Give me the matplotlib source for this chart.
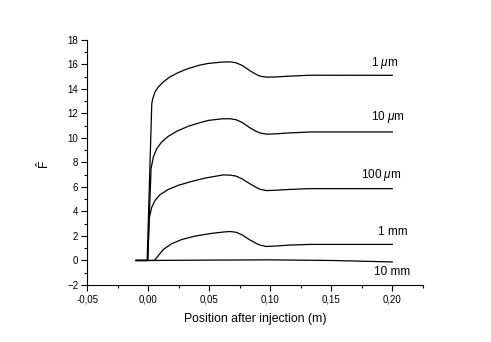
import matplotlib
matplotlib.use("Agg")
import matplotlib.pyplot as plt
from matplotlib.ticker import MultipleLocator, FuncFormatter

plt.rcParams['font.family'] = ['Liberation Sans', 'DejaVu Sans']
plt.rcParams['mathtext.fontset'] = 'custom'
plt.rcParams['mathtext.rm'] = 'Liberation Sans'
plt.rcParams['mathtext.it'] = 'Liberation Sans:italic'

# curves: position (m) vs F-hat
x_1um = [-0.01, -0.001, 0.0028, 0.0036, 0.0055, 0.0082, 0.0123, 0.0178, 0.0246, 0.0328,
         0.042, 0.049, 0.060, 0.067, 0.072, 0.077, 0.0834, 0.088, 0.0916, 0.097,
         0.105, 0.115, 0.1325, 0.20]
y_1um = [0, 0, 12.8, 13.2, 13.75, 14.16, 14.57, 14.98, 15.33, 15.66,
         15.93, 16.07, 16.18, 16.2, 16.12, 15.9, 15.47, 15.2, 15.03, 14.95,
         14.97, 15.03, 15.11, 15.1]

x_10um = [-0.01, -0.0005, 0.0022, 0.0041, 0.0069, 0.011, 0.0164, 0.0233, 0.0328,
          0.042, 0.049, 0.060, 0.067, 0.072, 0.077, 0.083, 0.088, 0.0916, 0.097,
          0.105, 0.115, 0.1325, 0.20]
y_10um = [0, 0, 7.49, 8.44, 9.13, 9.67, 10.13, 10.54, 10.95,
          11.23, 11.42, 11.55, 11.56, 11.48, 11.25, 10.84, 10.55, 10.4, 10.3,
          10.33, 10.4, 10.48, 10.48]

x_100um = [-0.01, -0.0005, 0.0006, 0.0028, 0.0055, 0.0096, 0.0164, 0.0246, 0.0356,
           0.0465, 0.0615, 0.067, 0.072, 0.077, 0.083, 0.088, 0.0916, 0.097,
           0.105, 0.115, 0.1325, 0.20]
y_100um = [0, 0, 3.4, 4.35, 4.9, 5.37, 5.8, 6.13, 6.45,
           6.72, 6.98, 6.96, 6.88, 6.65, 6.27, 5.98, 5.8, 5.7,
           5.73, 5.79, 5.86, 5.86]

x_1mm = [-0.01, 0.0049, 0.0082, 0.0123, 0.019, 0.0274, 0.0383, 0.052, 0.0615, 0.067,
         0.072, 0.077, 0.083, 0.088, 0.0916, 0.097, 0.105, 0.115, 0.1325, 0.20]
y_1mm = [0, 0, 0.4, 0.9, 1.36, 1.71, 1.99, 2.21, 2.32, 2.36,
         2.3, 2.08, 1.69, 1.42, 1.25, 1.14, 1.18, 1.25, 1.31, 1.31]

x_10mm = [-0.01, 0.0, 0.05, 0.10, 0.15, 0.20]
y_10mm = [0, 0, 0.03, 0.05, 0.0, -0.12]

curve_labels = ['1 $\\mu$m', '10 $\\mu$m', '100 $\\mu$m', '1 mm', '10 mm']
label_x = [0.1936, 0.1965, 0.1907, 0.2002, 0.2002]
label_y = [16.1, 11.68, 6.94, 2.29, -0.98]

xticks = [-0.05, 0.0, 0.05, 0.10, 0.15, 0.20]
yticks = list(range(-2, 19, 2))

fig = plt.figure(figsize=(4.91, 3.42), dpi=100)
ax = fig.add_axes([0.178, 0.1667, 0.683, 0.717])

for xs, ys in [(x_1um, y_1um), (x_10um, y_10um), (x_100um, y_100um),
               (x_1mm, y_1mm), (x_10mm, y_10mm)]:
    ax.plot(xs, ys, color='black', lw=0.9)

for lab, lx, ly in zip(curve_labels, label_x, label_y):
    ax.text(lx, ly, lab, ha='center', va='center', fontsize=8.5)

ax.set_xlim(-0.05, 0.225)
ax.set_ylim(-2, 18)
ax.set_xticks(xticks)
ax.set_yticks(yticks)
ax.xaxis.set_minor_locator(MultipleLocator(0.025))
ax.yaxis.set_minor_locator(MultipleLocator(1))
ax.xaxis.set_major_formatter(FuncFormatter(lambda v, p: f"{v:.2f}".replace('.', ',')))

for s in ['top', 'right']:
    ax.spines[s].set_visible(False)
for s in ['left', 'bottom']:
    ax.spines[s].set_linewidth(0.8)
ax.tick_params(which='major', direction='out', length=4, width=0.8, labelsize=7, pad=2.5)
ax.tick_params(which='minor', direction='out', length=2, width=0.8)

ax.set_xlabel('Position after injection (m)', fontsize=8.8)
ax.set_ylabel('$\\hat{\\mathrm{F}}$', fontsize=8.8)
ax.xaxis.set_label_coords(0.5, -0.115)
ax.yaxis.set_label_coords(-0.105, 0.49)

fig.savefig('out.png', dpi=100)
